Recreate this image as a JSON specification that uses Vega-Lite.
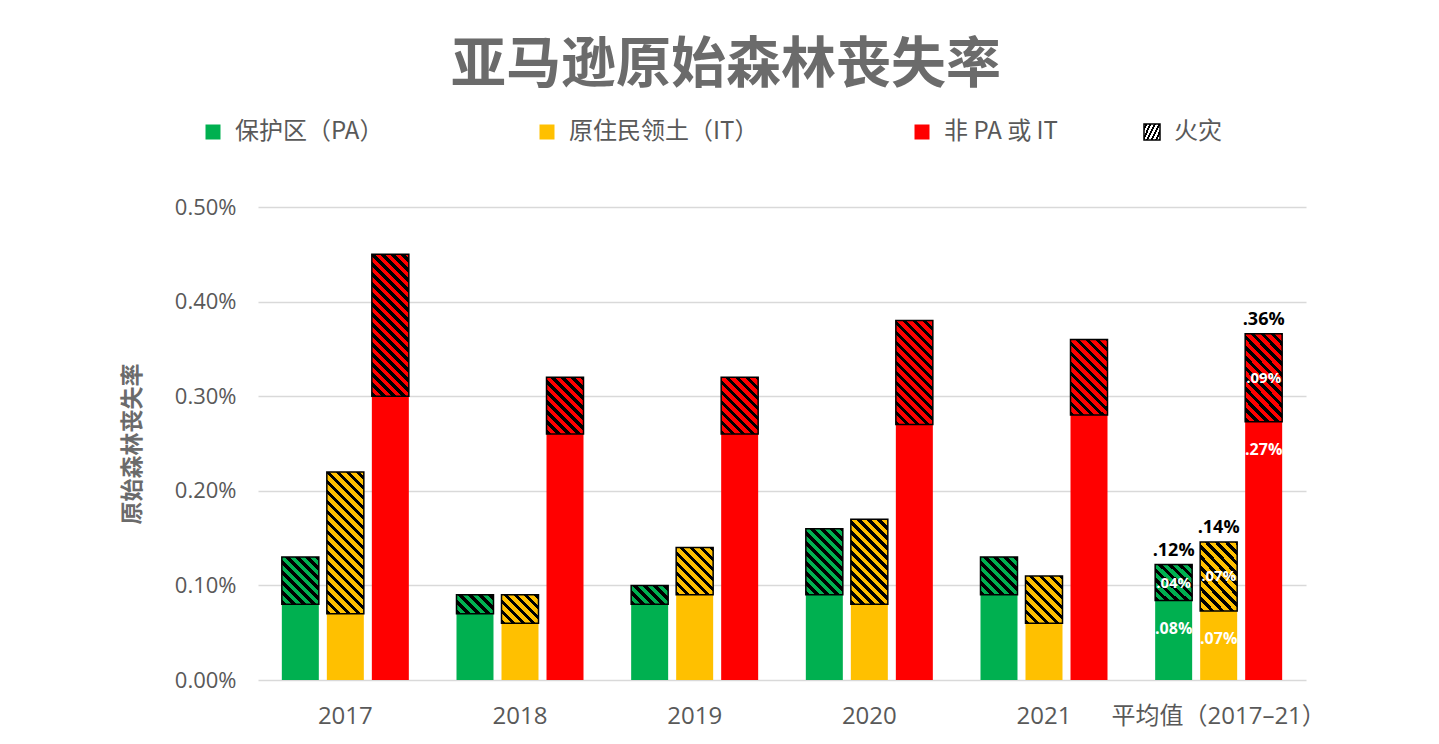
{
  "$schema": "https://vega.github.io/schema/vega-lite/v6.json",
  "width": 1048,
  "height": 473,
  "autosize": {"type": "none"},
  "padding": {"left": 258, "top": 207, "right": 133, "bottom": 64},
  "background": "white",
  "title": {"text": "亚马逊原始森林丧失率", "font": "Noto Sans CJK SC", "fontSize": 55, "fontWeight": "bold", "color": "#6b6b6b", "anchor": "middle", "dx": -56, "offset": 26},
  "config": {"view": {"stroke": null},
    "axisY": {"labelExpr": "format(datum.value, '.2f') + '%'", "domain": false, "ticks": false, "grid": true, "gridColor": "#d9d9d9", "gridWidth": 1.3, "labelFont": "Open Sans", "labelFontSize": 22, "labelColor": "#595959", "labelPadding": 22, "titleFont": "Noto Sans CJK SC", "titleFontSize": 23, "titleFontWeight": "bold", "titleColor": "#6b6b6b", "titlePadding": 30}},
  "data": {"values": [
    {"year": "2017", "cat": "保护区（PA）", "base": 0.08, "total": 0.13},
    {"year": "2017", "cat": "原住民领土（IT）", "base": 0.07, "total": 0.22},
    {"year": "2017", "cat": "非 PA 或 IT", "base": 0.30, "total": 0.45},
    {"year": "2018", "cat": "保护区（PA）", "base": 0.07, "total": 0.09},
    {"year": "2018", "cat": "原住民领土（IT）", "base": 0.06, "total": 0.09},
    {"year": "2018", "cat": "非 PA 或 IT", "base": 0.26, "total": 0.32},
    {"year": "2019", "cat": "保护区（PA）", "base": 0.08, "total": 0.10},
    {"year": "2019", "cat": "原住民领土（IT）", "base": 0.09, "total": 0.14},
    {"year": "2019", "cat": "非 PA 或 IT", "base": 0.26, "total": 0.32},
    {"year": "2020", "cat": "保护区（PA）", "base": 0.09, "total": 0.16},
    {"year": "2020", "cat": "原住民领土（IT）", "base": 0.08, "total": 0.17},
    {"year": "2020", "cat": "非 PA 或 IT", "base": 0.27, "total": 0.38},
    {"year": "2021", "cat": "保护区（PA）", "base": 0.09, "total": 0.13},
    {"year": "2021", "cat": "原住民领土（IT）", "base": 0.06, "total": 0.11},
    {"year": "2021", "cat": "非 PA 或 IT", "base": 0.28, "total": 0.36},
    {"year": "平均值（2017–21）", "cat": "保护区（PA）", "base": 0.084, "total": 0.122, "lblTotal": ".12%", "lblFire": ".04%", "lblBase": ".08%"},
    {"year": "平均值（2017–21）", "cat": "原住民领土（IT）", "base": 0.073, "total": 0.146, "lblTotal": ".14%", "lblFire": ".07%", "lblBase": ".07%"},
    {"year": "平均值（2017–21）", "cat": "非 PA 或 IT", "base": 0.273, "total": 0.366, "lblTotal": ".36%", "lblFire": ".09%", "lblBase": ".27%"}
  ]},
  "encoding": {
    "x": {"field": "year", "type": "nominal", "sort": ["2017", "2018", "2019", "2020", "2021", "平均值（2017–21）"],
      "scale": {"paddingInner": 0.227, "paddingOuter": 0.1135},
      "axis": {"title": null, "domain": false, "ticks": false, "labelAngle": 0, "labelFont": "Open Sans, Noto Sans CJK SC", "labelFontSize": 24, "labelColor": "#595959", "labelPadding": 24, "labelLimit": 400}},
    "xOffset": {"field": "cat", "type": "nominal", "sort": ["保护区（PA）", "原住民领土（IT）", "非 PA 或 IT"],
      "scale": {"paddingInner": 0.178, "paddingOuter": 0.089}}
  },
  "layer": [
    {
      "mark": {"type": "bar"},
      "encoding": {
        "y": {"field": "total", "type": "quantitative", "stack": null, "scale": {"domain": [0, 0.5]}, "title": "原始森林丧失率", "axis": {"values": [0, 0.1, 0.2, 0.3, 0.4, 0.5]}},
        "fill": {"field": "cat", "type": "nominal",
          "scale": {"domain": ["保护区（PA）", "原住民领土（IT）", "非 PA 或 IT"], "range": ["#00b050", "#ffc000", "#ff0000"]},
          "legend": {"orient": "none", "legendX": -57, "legendY": -87, "direction": "horizontal", "title": null, "columnPadding": 151, "symbolType": "square", "symbolSize": 225, "symbolStrokeWidth": 0, "labelOffset": 10, "labelFont": "Noto Sans CJK SC", "labelFontSize": 24, "labelColor": "#595959", "labelLimit": 400}}
      }
    },
    {
      "mark": {"type": "bar", "strokeWidth": 1.5},
      "encoding": {
        "y": {"field": "base", "type": "quantitative", "title": "原始森林丧失率", "axis": {"values": [0, 0.1, 0.2, 0.3, 0.4, 0.5]}},
        "y2": {"field": "total"},
        "stroke": {"datum": "火灾", "type": "nominal", "scale": {"range": ["#000000"]},
          "legend": {"orient": "none", "legendX": 882, "legendY": -87, "title": null, "symbolType": "square", "symbolSize": 256, "labelOffset": 10, "labelFont": "Noto Sans CJK SC", "labelFontSize": 24, "labelColor": "#595959",
            "encode": {"symbols": {"update": {"strokeWidth": {"value": 1}, "stroke": {"value": "#555555"}, "fill": {"value": {"gradient": "linear", "x1": 0, "y1": 1, "x2": 1, "y2": 0, "stops": [
              {"offset": 0, "color": "#333"}, {"offset": 0.1, "color": "#333"}, {"offset": 0.1, "color": "#fff"}, {"offset": 0.2, "color": "#fff"},
              {"offset": 0.2, "color": "#333"}, {"offset": 0.3, "color": "#333"}, {"offset": 0.3, "color": "#fff"}, {"offset": 0.4, "color": "#fff"},
              {"offset": 0.4, "color": "#333"}, {"offset": 0.5, "color": "#333"}, {"offset": 0.5, "color": "#fff"}, {"offset": 0.6, "color": "#fff"},
              {"offset": 0.6, "color": "#333"}, {"offset": 0.7, "color": "#333"}, {"offset": 0.7, "color": "#fff"}, {"offset": 0.8, "color": "#fff"},
              {"offset": 0.8, "color": "#333"}, {"offset": 0.9, "color": "#333"}, {"offset": 0.9, "color": "#fff"}, {"offset": 1, "color": "#fff"}]}}}}}}},
        "fill": {
          "condition": [
            {"test": "datum.total - datum.base < 0.025", "value": {"gradient": "linear", "x1": 0, "y1": 1, "x2": 4.287, "y2": -1.19, "stops": [
              {"offset": 0, "color": "#000"}, {"offset": 0.023, "color": "#000"}, {"offset": 0.023, "color": "transparent"}, {"offset": 0.05, "color": "transparent"},
              {"offset": 0.05, "color": "#000"}, {"offset": 0.073, "color": "#000"}, {"offset": 0.073, "color": "transparent"}, {"offset": 0.1, "color": "transparent"},
              {"offset": 0.1, "color": "#000"}, {"offset": 0.123, "color": "#000"}, {"offset": 0.123, "color": "transparent"}, {"offset": 0.15, "color": "transparent"},
              {"offset": 0.15, "color": "#000"}, {"offset": 0.173, "color": "#000"}, {"offset": 0.173, "color": "transparent"}, {"offset": 0.2, "color": "transparent"},
              {"offset": 0.2, "color": "#000"}, {"offset": 0.223, "color": "#000"}, {"offset": 0.223, "color": "transparent"}, {"offset": 0.25, "color": "transparent"},
              {"offset": 0.25, "color": "#000"}, {"offset": 0.273, "color": "#000"}, {"offset": 0.273, "color": "transparent"}, {"offset": 0.3, "color": "transparent"}]}},
            {"test": "datum.total - datum.base < 0.035", "value": {"gradient": "linear", "x1": 0, "y1": 1, "x2": 3.401, "y2": -1.611, "stops": [
              {"offset": 0, "color": "#000"}, {"offset": 0.023, "color": "#000"}, {"offset": 0.023, "color": "transparent"}, {"offset": 0.05, "color": "transparent"},
              {"offset": 0.05, "color": "#000"}, {"offset": 0.073, "color": "#000"}, {"offset": 0.073, "color": "transparent"}, {"offset": 0.1, "color": "transparent"},
              {"offset": 0.1, "color": "#000"}, {"offset": 0.123, "color": "#000"}, {"offset": 0.123, "color": "transparent"}, {"offset": 0.15, "color": "transparent"},
              {"offset": 0.15, "color": "#000"}, {"offset": 0.173, "color": "#000"}, {"offset": 0.173, "color": "transparent"}, {"offset": 0.2, "color": "transparent"},
              {"offset": 0.2, "color": "#000"}, {"offset": 0.223, "color": "#000"}, {"offset": 0.223, "color": "transparent"}, {"offset": 0.25, "color": "transparent"},
              {"offset": 0.25, "color": "#000"}, {"offset": 0.273, "color": "#000"}, {"offset": 0.273, "color": "transparent"}, {"offset": 0.3, "color": "transparent"},
              {"offset": 0.3, "color": "#000"}, {"offset": 0.323, "color": "#000"}, {"offset": 0.323, "color": "transparent"}, {"offset": 0.35, "color": "transparent"}]}},
            {"test": "datum.total - datum.base < 0.045", "value": {"gradient": "linear", "x1": 0, "y1": 1, "x2": 2.645, "y2": -1.702, "stops": [
              {"offset": 0, "color": "#000"}, {"offset": 0.023, "color": "#000"}, {"offset": 0.023, "color": "transparent"}, {"offset": 0.05, "color": "transparent"},
              {"offset": 0.05, "color": "#000"}, {"offset": 0.073, "color": "#000"}, {"offset": 0.073, "color": "transparent"}, {"offset": 0.1, "color": "transparent"},
              {"offset": 0.1, "color": "#000"}, {"offset": 0.123, "color": "#000"}, {"offset": 0.123, "color": "transparent"}, {"offset": 0.15, "color": "transparent"},
              {"offset": 0.15, "color": "#000"}, {"offset": 0.173, "color": "#000"}, {"offset": 0.173, "color": "transparent"}, {"offset": 0.2, "color": "transparent"},
              {"offset": 0.2, "color": "#000"}, {"offset": 0.223, "color": "#000"}, {"offset": 0.223, "color": "transparent"}, {"offset": 0.25, "color": "transparent"},
              {"offset": 0.25, "color": "#000"}, {"offset": 0.273, "color": "#000"}, {"offset": 0.273, "color": "transparent"}, {"offset": 0.3, "color": "transparent"},
              {"offset": 0.3, "color": "#000"}, {"offset": 0.323, "color": "#000"}, {"offset": 0.323, "color": "transparent"}, {"offset": 0.35, "color": "transparent"},
              {"offset": 0.35, "color": "#000"}, {"offset": 0.373, "color": "#000"}, {"offset": 0.373, "color": "transparent"}, {"offset": 0.4, "color": "transparent"}]}},
            {"test": "datum.total - datum.base < 0.055", "value": {"gradient": "linear", "x1": 0, "y1": 1, "x2": 2.052, "y2": -1.623, "stops": [
              {"offset": 0, "color": "#000"}, {"offset": 0.023, "color": "#000"}, {"offset": 0.023, "color": "transparent"}, {"offset": 0.05, "color": "transparent"},
              {"offset": 0.05, "color": "#000"}, {"offset": 0.073, "color": "#000"}, {"offset": 0.073, "color": "transparent"}, {"offset": 0.1, "color": "transparent"},
              {"offset": 0.1, "color": "#000"}, {"offset": 0.123, "color": "#000"}, {"offset": 0.123, "color": "transparent"}, {"offset": 0.15, "color": "transparent"},
              {"offset": 0.15, "color": "#000"}, {"offset": 0.173, "color": "#000"}, {"offset": 0.173, "color": "transparent"}, {"offset": 0.2, "color": "transparent"},
              {"offset": 0.2, "color": "#000"}, {"offset": 0.223, "color": "#000"}, {"offset": 0.223, "color": "transparent"}, {"offset": 0.25, "color": "transparent"},
              {"offset": 0.25, "color": "#000"}, {"offset": 0.273, "color": "#000"}, {"offset": 0.273, "color": "transparent"}, {"offset": 0.3, "color": "transparent"},
              {"offset": 0.3, "color": "#000"}, {"offset": 0.323, "color": "#000"}, {"offset": 0.323, "color": "transparent"}, {"offset": 0.35, "color": "transparent"},
              {"offset": 0.35, "color": "#000"}, {"offset": 0.373, "color": "#000"}, {"offset": 0.373, "color": "transparent"}, {"offset": 0.4, "color": "transparent"},
              {"offset": 0.4, "color": "#000"}, {"offset": 0.423, "color": "#000"}, {"offset": 0.423, "color": "transparent"}, {"offset": 0.45, "color": "transparent"}]}},
            {"test": "datum.total - datum.base < 0.065", "value": {"gradient": "linear", "x1": 0, "y1": 1, "x2": 1.61, "y2": -1.472, "stops": [
              {"offset": 0, "color": "#000"}, {"offset": 0.023, "color": "#000"}, {"offset": 0.023, "color": "transparent"}, {"offset": 0.05, "color": "transparent"},
              {"offset": 0.05, "color": "#000"}, {"offset": 0.073, "color": "#000"}, {"offset": 0.073, "color": "transparent"}, {"offset": 0.1, "color": "transparent"},
              {"offset": 0.1, "color": "#000"}, {"offset": 0.123, "color": "#000"}, {"offset": 0.123, "color": "transparent"}, {"offset": 0.15, "color": "transparent"},
              {"offset": 0.15, "color": "#000"}, {"offset": 0.173, "color": "#000"}, {"offset": 0.173, "color": "transparent"}, {"offset": 0.2, "color": "transparent"},
              {"offset": 0.2, "color": "#000"}, {"offset": 0.223, "color": "#000"}, {"offset": 0.223, "color": "transparent"}, {"offset": 0.25, "color": "transparent"},
              {"offset": 0.25, "color": "#000"}, {"offset": 0.273, "color": "#000"}, {"offset": 0.273, "color": "transparent"}, {"offset": 0.3, "color": "transparent"},
              {"offset": 0.3, "color": "#000"}, {"offset": 0.323, "color": "#000"}, {"offset": 0.323, "color": "transparent"}, {"offset": 0.35, "color": "transparent"},
              {"offset": 0.35, "color": "#000"}, {"offset": 0.373, "color": "#000"}, {"offset": 0.373, "color": "transparent"}, {"offset": 0.4, "color": "transparent"},
              {"offset": 0.4, "color": "#000"}, {"offset": 0.423, "color": "#000"}, {"offset": 0.423, "color": "transparent"}, {"offset": 0.45, "color": "transparent"},
              {"offset": 0.45, "color": "#000"}, {"offset": 0.473, "color": "#000"}, {"offset": 0.473, "color": "transparent"}, {"offset": 0.5, "color": "transparent"}]}},
            {"test": "datum.total - datum.base < 0.075", "value": {"gradient": "linear", "x1": 0, "y1": 1, "x2": 1.287, "y2": -1.302, "stops": [
              {"offset": 0, "color": "#000"}, {"offset": 0.023, "color": "#000"}, {"offset": 0.023, "color": "transparent"}, {"offset": 0.05, "color": "transparent"},
              {"offset": 0.05, "color": "#000"}, {"offset": 0.073, "color": "#000"}, {"offset": 0.073, "color": "transparent"}, {"offset": 0.1, "color": "transparent"},
              {"offset": 0.1, "color": "#000"}, {"offset": 0.123, "color": "#000"}, {"offset": 0.123, "color": "transparent"}, {"offset": 0.15, "color": "transparent"},
              {"offset": 0.15, "color": "#000"}, {"offset": 0.173, "color": "#000"}, {"offset": 0.173, "color": "transparent"}, {"offset": 0.2, "color": "transparent"},
              {"offset": 0.2, "color": "#000"}, {"offset": 0.223, "color": "#000"}, {"offset": 0.223, "color": "transparent"}, {"offset": 0.25, "color": "transparent"},
              {"offset": 0.25, "color": "#000"}, {"offset": 0.273, "color": "#000"}, {"offset": 0.273, "color": "transparent"}, {"offset": 0.3, "color": "transparent"},
              {"offset": 0.3, "color": "#000"}, {"offset": 0.323, "color": "#000"}, {"offset": 0.323, "color": "transparent"}, {"offset": 0.35, "color": "transparent"},
              {"offset": 0.35, "color": "#000"}, {"offset": 0.373, "color": "#000"}, {"offset": 0.373, "color": "transparent"}, {"offset": 0.4, "color": "transparent"},
              {"offset": 0.4, "color": "#000"}, {"offset": 0.423, "color": "#000"}, {"offset": 0.423, "color": "transparent"}, {"offset": 0.45, "color": "transparent"},
              {"offset": 0.45, "color": "#000"}, {"offset": 0.473, "color": "#000"}, {"offset": 0.473, "color": "transparent"}, {"offset": 0.5, "color": "transparent"},
              {"offset": 0.5, "color": "#000"}, {"offset": 0.523, "color": "#000"}, {"offset": 0.523, "color": "transparent"}, {"offset": 0.55, "color": "transparent"}]}},
            {"test": "datum.total - datum.base < 0.085", "value": {"gradient": "linear", "x1": 0, "y1": 1, "x2": 1.042, "y2": -1.133, "stops": [
              {"offset": 0, "color": "#000"}, {"offset": 0.023, "color": "#000"}, {"offset": 0.023, "color": "transparent"}, {"offset": 0.05, "color": "transparent"},
              {"offset": 0.05, "color": "#000"}, {"offset": 0.073, "color": "#000"}, {"offset": 0.073, "color": "transparent"}, {"offset": 0.1, "color": "transparent"},
              {"offset": 0.1, "color": "#000"}, {"offset": 0.123, "color": "#000"}, {"offset": 0.123, "color": "transparent"}, {"offset": 0.15, "color": "transparent"},
              {"offset": 0.15, "color": "#000"}, {"offset": 0.173, "color": "#000"}, {"offset": 0.173, "color": "transparent"}, {"offset": 0.2, "color": "transparent"},
              {"offset": 0.2, "color": "#000"}, {"offset": 0.223, "color": "#000"}, {"offset": 0.223, "color": "transparent"}, {"offset": 0.25, "color": "transparent"},
              {"offset": 0.25, "color": "#000"}, {"offset": 0.273, "color": "#000"}, {"offset": 0.273, "color": "transparent"}, {"offset": 0.3, "color": "transparent"},
              {"offset": 0.3, "color": "#000"}, {"offset": 0.323, "color": "#000"}, {"offset": 0.323, "color": "transparent"}, {"offset": 0.35, "color": "transparent"},
              {"offset": 0.35, "color": "#000"}, {"offset": 0.373, "color": "#000"}, {"offset": 0.373, "color": "transparent"}, {"offset": 0.4, "color": "transparent"},
              {"offset": 0.4, "color": "#000"}, {"offset": 0.423, "color": "#000"}, {"offset": 0.423, "color": "transparent"}, {"offset": 0.45, "color": "transparent"},
              {"offset": 0.45, "color": "#000"}, {"offset": 0.473, "color": "#000"}, {"offset": 0.473, "color": "transparent"}, {"offset": 0.5, "color": "transparent"},
              {"offset": 0.5, "color": "#000"}, {"offset": 0.523, "color": "#000"}, {"offset": 0.523, "color": "transparent"}, {"offset": 0.55, "color": "transparent"},
              {"offset": 0.55, "color": "#000"}, {"offset": 0.573, "color": "#000"}, {"offset": 0.573, "color": "transparent"}, {"offset": 0.6, "color": "transparent"}]}},
            {"test": "datum.total - datum.base < 0.1", "value": {"gradient": "linear", "x1": 0, "y1": 1, "x2": 0.859, "y2": -0.977, "stops": [
              {"offset": 0, "color": "#000"}, {"offset": 0.023, "color": "#000"}, {"offset": 0.023, "color": "transparent"}, {"offset": 0.05, "color": "transparent"},
              {"offset": 0.05, "color": "#000"}, {"offset": 0.073, "color": "#000"}, {"offset": 0.073, "color": "transparent"}, {"offset": 0.1, "color": "transparent"},
              {"offset": 0.1, "color": "#000"}, {"offset": 0.123, "color": "#000"}, {"offset": 0.123, "color": "transparent"}, {"offset": 0.15, "color": "transparent"},
              {"offset": 0.15, "color": "#000"}, {"offset": 0.173, "color": "#000"}, {"offset": 0.173, "color": "transparent"}, {"offset": 0.2, "color": "transparent"},
              {"offset": 0.2, "color": "#000"}, {"offset": 0.223, "color": "#000"}, {"offset": 0.223, "color": "transparent"}, {"offset": 0.25, "color": "transparent"},
              {"offset": 0.25, "color": "#000"}, {"offset": 0.273, "color": "#000"}, {"offset": 0.273, "color": "transparent"}, {"offset": 0.3, "color": "transparent"},
              {"offset": 0.3, "color": "#000"}, {"offset": 0.323, "color": "#000"}, {"offset": 0.323, "color": "transparent"}, {"offset": 0.35, "color": "transparent"},
              {"offset": 0.35, "color": "#000"}, {"offset": 0.373, "color": "#000"}, {"offset": 0.373, "color": "transparent"}, {"offset": 0.4, "color": "transparent"},
              {"offset": 0.4, "color": "#000"}, {"offset": 0.423, "color": "#000"}, {"offset": 0.423, "color": "transparent"}, {"offset": 0.45, "color": "transparent"},
              {"offset": 0.45, "color": "#000"}, {"offset": 0.473, "color": "#000"}, {"offset": 0.473, "color": "transparent"}, {"offset": 0.5, "color": "transparent"},
              {"offset": 0.5, "color": "#000"}, {"offset": 0.523, "color": "#000"}, {"offset": 0.523, "color": "transparent"}, {"offset": 0.55, "color": "transparent"},
              {"offset": 0.55, "color": "#000"}, {"offset": 0.573, "color": "#000"}, {"offset": 0.573, "color": "transparent"}, {"offset": 0.6, "color": "transparent"},
              {"offset": 0.6, "color": "#000"}, {"offset": 0.623, "color": "#000"}, {"offset": 0.623, "color": "transparent"}, {"offset": 0.65, "color": "transparent"}]}},
            {"test": "datum.total - datum.base < 0.13", "value": {"gradient": "linear", "x1": 0, "y1": 1, "x2": 0.606, "y2": -0.706, "stops": [
              {"offset": 0, "color": "#000"}, {"offset": 0.023, "color": "#000"}, {"offset": 0.023, "color": "transparent"}, {"offset": 0.05, "color": "transparent"},
              {"offset": 0.05, "color": "#000"}, {"offset": 0.073, "color": "#000"}, {"offset": 0.073, "color": "transparent"}, {"offset": 0.1, "color": "transparent"},
              {"offset": 0.1, "color": "#000"}, {"offset": 0.123, "color": "#000"}, {"offset": 0.123, "color": "transparent"}, {"offset": 0.15, "color": "transparent"},
              {"offset": 0.15, "color": "#000"}, {"offset": 0.173, "color": "#000"}, {"offset": 0.173, "color": "transparent"}, {"offset": 0.2, "color": "transparent"},
              {"offset": 0.2, "color": "#000"}, {"offset": 0.223, "color": "#000"}, {"offset": 0.223, "color": "transparent"}, {"offset": 0.25, "color": "transparent"},
              {"offset": 0.25, "color": "#000"}, {"offset": 0.273, "color": "#000"}, {"offset": 0.273, "color": "transparent"}, {"offset": 0.3, "color": "transparent"},
              {"offset": 0.3, "color": "#000"}, {"offset": 0.323, "color": "#000"}, {"offset": 0.323, "color": "transparent"}, {"offset": 0.35, "color": "transparent"},
              {"offset": 0.35, "color": "#000"}, {"offset": 0.373, "color": "#000"}, {"offset": 0.373, "color": "transparent"}, {"offset": 0.4, "color": "transparent"},
              {"offset": 0.4, "color": "#000"}, {"offset": 0.423, "color": "#000"}, {"offset": 0.423, "color": "transparent"}, {"offset": 0.45, "color": "transparent"},
              {"offset": 0.45, "color": "#000"}, {"offset": 0.473, "color": "#000"}, {"offset": 0.473, "color": "transparent"}, {"offset": 0.5, "color": "transparent"},
              {"offset": 0.5, "color": "#000"}, {"offset": 0.523, "color": "#000"}, {"offset": 0.523, "color": "transparent"}, {"offset": 0.55, "color": "transparent"},
              {"offset": 0.55, "color": "#000"}, {"offset": 0.573, "color": "#000"}, {"offset": 0.573, "color": "transparent"}, {"offset": 0.6, "color": "transparent"},
              {"offset": 0.6, "color": "#000"}, {"offset": 0.623, "color": "#000"}, {"offset": 0.623, "color": "transparent"}, {"offset": 0.65, "color": "transparent"},
              {"offset": 0.65, "color": "#000"}, {"offset": 0.673, "color": "#000"}, {"offset": 0.673, "color": "transparent"}, {"offset": 0.7, "color": "transparent"},
              {"offset": 0.7, "color": "#000"}, {"offset": 0.723, "color": "#000"}, {"offset": 0.723, "color": "transparent"}, {"offset": 0.75, "color": "transparent"}]}}
          ],
          "value": {"gradient": "linear", "x1": 0, "y1": 1, "x2": 0.344, "y2": -0.32, "stops": [
              {"offset": 0, "color": "#000"}, {"offset": 0.023, "color": "#000"}, {"offset": 0.023, "color": "transparent"}, {"offset": 0.05, "color": "transparent"},
              {"offset": 0.05, "color": "#000"}, {"offset": 0.073, "color": "#000"}, {"offset": 0.073, "color": "transparent"}, {"offset": 0.1, "color": "transparent"},
              {"offset": 0.1, "color": "#000"}, {"offset": 0.123, "color": "#000"}, {"offset": 0.123, "color": "transparent"}, {"offset": 0.15, "color": "transparent"},
              {"offset": 0.15, "color": "#000"}, {"offset": 0.173, "color": "#000"}, {"offset": 0.173, "color": "transparent"}, {"offset": 0.2, "color": "transparent"},
              {"offset": 0.2, "color": "#000"}, {"offset": 0.223, "color": "#000"}, {"offset": 0.223, "color": "transparent"}, {"offset": 0.25, "color": "transparent"},
              {"offset": 0.25, "color": "#000"}, {"offset": 0.273, "color": "#000"}, {"offset": 0.273, "color": "transparent"}, {"offset": 0.3, "color": "transparent"},
              {"offset": 0.3, "color": "#000"}, {"offset": 0.323, "color": "#000"}, {"offset": 0.323, "color": "transparent"}, {"offset": 0.35, "color": "transparent"},
              {"offset": 0.35, "color": "#000"}, {"offset": 0.373, "color": "#000"}, {"offset": 0.373, "color": "transparent"}, {"offset": 0.4, "color": "transparent"},
              {"offset": 0.4, "color": "#000"}, {"offset": 0.423, "color": "#000"}, {"offset": 0.423, "color": "transparent"}, {"offset": 0.45, "color": "transparent"},
              {"offset": 0.45, "color": "#000"}, {"offset": 0.473, "color": "#000"}, {"offset": 0.473, "color": "transparent"}, {"offset": 0.5, "color": "transparent"},
              {"offset": 0.5, "color": "#000"}, {"offset": 0.523, "color": "#000"}, {"offset": 0.523, "color": "transparent"}, {"offset": 0.55, "color": "transparent"},
              {"offset": 0.55, "color": "#000"}, {"offset": 0.573, "color": "#000"}, {"offset": 0.573, "color": "transparent"}, {"offset": 0.6, "color": "transparent"},
              {"offset": 0.6, "color": "#000"}, {"offset": 0.623, "color": "#000"}, {"offset": 0.623, "color": "transparent"}, {"offset": 0.65, "color": "transparent"},
              {"offset": 0.65, "color": "#000"}, {"offset": 0.673, "color": "#000"}, {"offset": 0.673, "color": "transparent"}, {"offset": 0.7, "color": "transparent"},
              {"offset": 0.7, "color": "#000"}, {"offset": 0.723, "color": "#000"}, {"offset": 0.723, "color": "transparent"}, {"offset": 0.75, "color": "transparent"},
              {"offset": 0.75, "color": "#000"}, {"offset": 0.773, "color": "#000"}, {"offset": 0.773, "color": "transparent"}, {"offset": 0.8, "color": "transparent"},
              {"offset": 0.8, "color": "#000"}, {"offset": 0.823, "color": "#000"}, {"offset": 0.823, "color": "transparent"}, {"offset": 0.85, "color": "transparent"},
              {"offset": 0.85, "color": "#000"}, {"offset": 0.873, "color": "#000"}, {"offset": 0.873, "color": "transparent"}, {"offset": 0.9, "color": "transparent"},
              {"offset": 0.9, "color": "#000"}, {"offset": 0.923, "color": "#000"}, {"offset": 0.923, "color": "transparent"}, {"offset": 0.95, "color": "transparent"}]}
        }
      }
    },
    {
      "transform": [{"filter": "isValid(datum.lblTotal)"}],
      "mark": {"type": "text", "font": "Open Sans", "fontSize": 18, "fontWeight": "bold", "color": "#000000", "baseline": "alphabetic", "dy": -9},
      "encoding": {
        "y": {"field": "total", "type": "quantitative", "title": "原始森林丧失率", "axis": {"values": [0, 0.1, 0.2, 0.3, 0.4, 0.5]}},
        "text": {"field": "lblTotal"}
      }
    },
    {
      "transform": [{"filter": "isValid(datum.lblFire)"}, {"fold": ["base", "total"], "as": ["k", "v"]}],
      "mark": {"type": "text", "font": "Open Sans", "fontSize": 15, "fontWeight": "bold", "color": "#ffffff", "baseline": "middle"},
      "encoding": {
        "y": {"aggregate": "mean", "field": "v", "type": "quantitative", "title": "原始森林丧失率", "axis": {"values": [0, 0.1, 0.2, 0.3, 0.4, 0.5]}},
        "text": {"field": "lblFire"}
      }
    },
    {
      "transform": [{"filter": "isValid(datum.lblBase)"}],
      "mark": {"type": "text", "font": "Open Sans", "fontSize": 16, "fontWeight": "bold", "color": "#ffffff", "baseline": "middle", "dy": 28},
      "encoding": {
        "y": {"field": "base", "type": "quantitative", "title": "原始森林丧失率", "axis": {"values": [0, 0.1, 0.2, 0.3, 0.4, 0.5]}},
        "text": {"field": "lblBase"}
      }
    }
  ]
}
